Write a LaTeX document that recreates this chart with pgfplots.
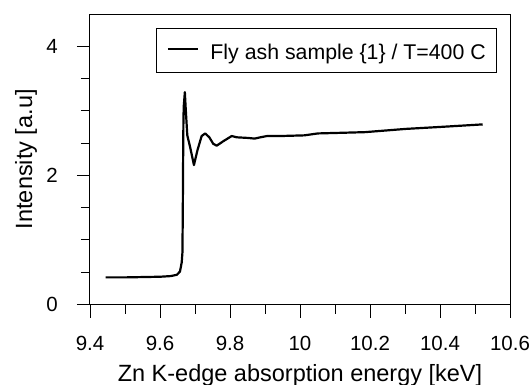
\documentclass[border=0pt]{standalone}
\usepackage{pgfplots}
\pgfplotsset{compat=1.18}
\usepackage{fontspec}
\setmainfont{Liberation Sans}
\begin{document}
\begin{tikzpicture}
\begin{axis}[
  at={(0,0)}, anchor=south west,
  scale only axis, width=420bp, height=290.5bp,
  xmin=9.4, xmax=10.6, ymin=0, ymax=4.5,
  xtick={9.4,9.6,9.8,10,10.2,10.4,10.6},
  minor xtick={9.5,9.7,9.9,10.1,10.3,10.5},
  ytick={0,2,4},
  minor ytick={0.5,1,1.5,2.5,3,3.5},
  xtick pos=bottom, ytick pos=left,
  tick align=outside,
  major tick length=13bp, minor tick length=9bp,
  every tick/.style={black, line width=0.9bp},
  axis line style={line width=1bp},
  /pgf/number format/assume math mode=true,
  tick label style={font=\fontsize{20.5bp}{23bp}\selectfont, inner sep=0pt},
  xticklabel style={anchor=north, yshift=-18bp},
  yticklabel style={anchor=east, xshift=-19bp},
  every axis x label/.style={at={(axis description cs:0.5,-0.2644)}, anchor=base, font=\fontsize{23.5bp}{26bp}\selectfont, inner sep=0pt},
  every axis y label/.style={at={(axis description cs:-0.138,0.5)}, anchor=base, rotate=90, font=\fontsize{23.5bp}{26bp}\selectfont, inner sep=0pt},
  xlabel={Zn K-edge absorption energy [keV]},
  ylabel={Intensity [a.u]},
  legend style={at={(1,1)}, anchor=north east, xshift=-13.3bp, yshift=-14.3bp,
    draw=black, line width=0.9bp, inner xsep=10.5bp, inner ysep=9bp,
    font=\fontsize{21.3bp}{24bp}\selectfont,
    nodes={inner sep=0pt, text height=22bp, text depth=4bp},
    column sep=11.5bp},
  legend cell align=left,
  legend image code/.code={\draw[#1, line width=2.2bp] (0bp,2bp) -- (30bp,2bp);},
]
\addplot[black, line width=2.2bp, line join=round] coordinates {
(9.445,0.42) (9.50,0.42) (9.55,0.425) (9.60,0.43) (9.63,0.44)
(9.648,0.46) (9.657,0.51) (9.662,0.65) (9.664,0.80) (9.665,1.33)
(9.666,2.2) (9.667,2.9) (9.668,3.08) (9.671,3.29) (9.673,3.08)
(9.678,2.62) (9.686,2.44) (9.697,2.16) (9.707,2.39) (9.719,2.61)
(9.729,2.65) (9.741,2.59) (9.752,2.49) (9.762,2.46) (9.781,2.53)
(9.805,2.61) (9.819,2.59) (9.852,2.58) (9.870,2.57) (9.887,2.59)
(9.906,2.61) (9.945,2.61) (10.012,2.62) (10.051,2.65) (10.120,2.66)
(10.186,2.67) (10.302,2.72) (10.399,2.75) (10.522,2.79)
};
\addlegendentry{Fly ash sample \{1\} / T=400 C}
\end{axis}
\pgfresetboundingbox
\path (-90bp,-80.5bp) rectangle (440bp,304.5bp);
\end{tikzpicture}
\end{document}
